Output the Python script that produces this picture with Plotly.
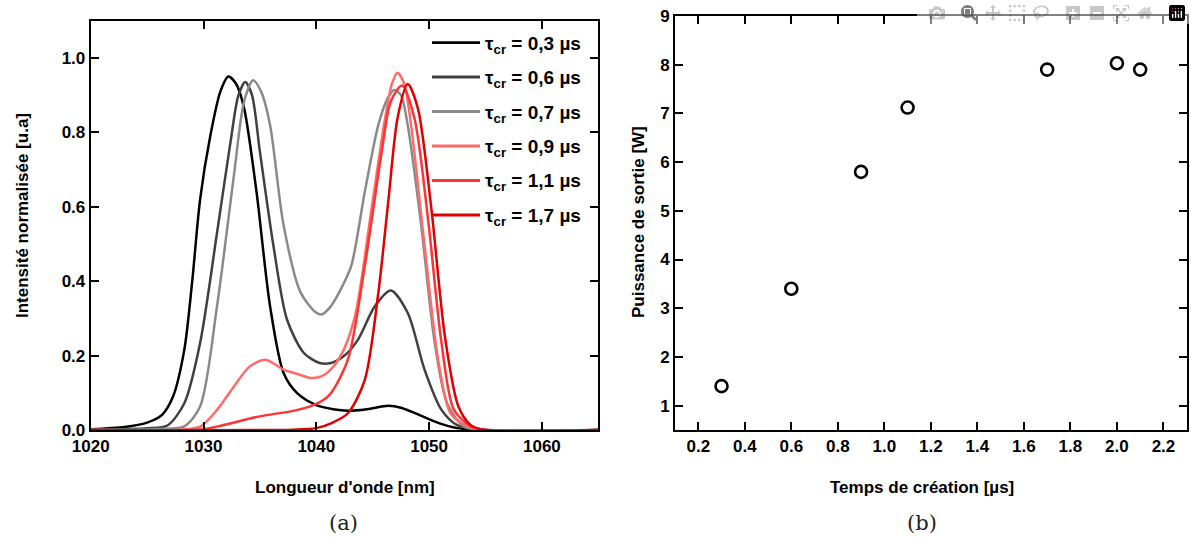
import plotly.graph_objects as go

W, H = 1191, 539

# ---------------- data: panel (a) spectra ----------------
labels_a = ["0,3", "0,6", "0,7", "0,9", "1,1", "1,7"]
colors_a = ["#000000", "#404040", "#8a8a8a", "#ff6b6b", "#ff3333", "#e00000"]

wl_03 = [1020, 1023, 1025, 1026.3, 1027.3, 1028.3, 1029.0, 1029.7, 1030.6, 1031.5, 1032.2, 1032.9,
         1033.6, 1034.7, 1035.9, 1037.1, 1038.3, 1040.0, 1041.5, 1042.8, 1044.5, 1046.4, 1047.5,
         1048.7, 1050.8, 1052.5, 1055, 1065]
int_03 = [0.002, 0.008, 0.02, 0.04, 0.09, 0.216, 0.40, 0.62, 0.79, 0.91, 0.95, 0.93,
          0.865, 0.64, 0.333, 0.153, 0.099, 0.067, 0.056, 0.052, 0.056, 0.065, 0.06,
          0.046, 0.019, 0.005, 0, 0]

wl_06 = [1020, 1025, 1026.8, 1028.3, 1029.7, 1031.2, 1032.4, 1033.1, 1033.7, 1034.3, 1035.0, 1036.2,
         1037.4, 1038.9, 1040.3, 1041.3, 1042.5, 1043.7, 1045.2, 1046.6, 1048.1, 1049.6, 1051.1,
         1052.5, 1055, 1065]
int_06 = [0.001, 0.005, 0.012, 0.072, 0.234, 0.53, 0.775, 0.90, 0.935, 0.90, 0.748, 0.495,
          0.297, 0.207, 0.18, 0.18, 0.20, 0.243, 0.333, 0.375, 0.315, 0.162, 0.054,
          0.013, 0, 0]

wl_07 = [1020, 1026, 1028.3, 1029.7, 1031.2, 1032.7, 1033.6, 1034.4, 1035.1, 1035.9, 1037.1, 1038.6,
         1040.0, 1040.5, 1041.3, 1042.2, 1043.1, 1044.3, 1045.5, 1046.3, 1046.9, 1047.5, 1048.1,
         1049.3, 1050.5, 1051.6, 1053.1, 1055, 1065]
int_07 = [0.001, 0.003, 0.01, 0.063, 0.333, 0.685, 0.883, 0.94, 0.91, 0.82, 0.55, 0.37,
          0.315, 0.311, 0.333, 0.38, 0.441, 0.64, 0.82, 0.89, 0.914, 0.90, 0.82,
          0.55, 0.234, 0.072, 0.009, 0, 0]

wl_09 = [1020, 1028, 1029.7, 1031.2, 1032.7, 1034.1, 1035.5, 1037.1, 1038.4, 1039.5, 1040.5, 1041.5,
         1042.5, 1043.5, 1044.9, 1046.1, 1046.7, 1047.2, 1047.8, 1048.4, 1049.6, 1050.8, 1051.9,
         1053.4, 1055, 1065]
int_09 = [0, 0.001, 0.009, 0.054, 0.117, 0.171, 0.189, 0.162, 0.15, 0.14, 0.145, 0.17,
          0.22, 0.315, 0.595, 0.838, 0.93, 0.96, 0.93, 0.82, 0.495, 0.189, 0.045,
          0.01, 0, 0]

wl_11 = [1020, 1030, 1031.2, 1032.7, 1034.1, 1035.6, 1037.7, 1039.4, 1040.6, 1041.3, 1042.8, 1044.3,
         1045.8, 1046.6, 1047.6, 1048.7, 1049.9, 1051.1, 1052.2, 1053.7, 1055, 1065]
int_11 = [0, 0.002, 0.009, 0.02, 0.031, 0.04, 0.05, 0.063, 0.08, 0.099, 0.189, 0.441,
          0.748, 0.883, 0.926, 0.838, 0.568, 0.234, 0.054, 0.01, 0, 0]

wl_17 = [1020, 1038, 1040, 1041.3, 1042.8, 1044.3, 1045.5, 1046.4, 1047.2, 1048.1, 1049.0, 1050.2,
         1051.4, 1052.6, 1053.7, 1055, 1065]
int_17 = [0, 0.001, 0.005, 0.018, 0.045, 0.135, 0.369, 0.62, 0.838, 0.93, 0.865, 0.595,
          0.252, 0.063, 0.013, 0, 0]

wl_series = [wl_03, wl_06, wl_07, wl_09, wl_11, wl_17]
int_series = [int_03, int_06, int_07, int_09, int_11, int_17]

# ---------------- data: panel (b) output power ----------------
t_creation = [0.3, 0.6, 0.9, 1.1, 1.7, 2.0, 2.1]
power_out = [1.4, 3.4, 5.8, 7.12, 7.9, 8.03, 7.9]

# ---------------- figure ----------------
FONT = "Liberation Sans, Arial, sans-serif"
fig = go.Figure()

for wl, it, col in zip(wl_series, int_series, colors_a):
    fig.add_trace(go.Scatter(x=wl, y=it, mode="lines", xaxis="x", yaxis="y",
                             line=dict(color=col, width=2.5, shape="spline", smoothing=0.8),
                             showlegend=False, hoverinfo="skip"))

fig.add_trace(go.Scatter(x=t_creation, y=power_out, mode="markers", xaxis="x2", yaxis="y2",
                         marker=dict(symbol="circle-open", size=12, color="black",
                                     line=dict(width=2.6, color="black")),
                         showlegend=False))

def px(x):
    return x / W

def py(y):
    return 1 - y / H

tickfont = dict(family=FONT, size=17, color="black", weight="bold")

def axis(**kw):
    d = dict(showline=True, linecolor="#000000", linewidth=2, mirror="ticks",
             ticks="inside", ticklen=8, tickwidth=2, tickcolor="#000000",
             showgrid=False, zeroline=False, tickfont=tickfont, automargin=False)
    d.update(kw)
    return d

fig.update_layout(
    template="none",
    width=W, height=H,
    margin=dict(l=0, r=0, t=0, b=0, pad=0),
    paper_bgcolor="white", plot_bgcolor="white",
    xaxis=axis(domain=[px(90.7), px(598.3)], anchor="y", range=[1020, 1065],
               tick0=1020, dtick=10),
    yaxis=axis(domain=[py(430), py(20.7)], anchor="x", range=[0, 1.1],
               tick0=0, dtick=0.2, tickformat=".1f"),
    xaxis2=axis(domain=[px(675), px(1186.7)], anchor="y2", range=[0.1, 2.3],
                tick0=0.2, dtick=0.2, tickformat=".1f"),
    yaxis2=axis(domain=[py(430), py(16)], anchor="x2", range=[0.5, 9],
                tick0=1, dtick=1),
)

title_font = dict(family=FONT, size=17, color="black", weight="bold")
serif = dict(family="DejaVu Serif, Liberation Serif, serif", size=21, color="#222")
ann = [
    dict(text="Longueur d'onde [nm]", x=px(345), y=py(487), font=title_font),
    dict(text="Temps de création [µs]", x=px(922), y=py(487), font=title_font),
    dict(text="Intensité normalisée [u.a]", x=px(22), y=py(216), font=title_font, textangle=-90),
    dict(text="Puissance de sortie [W]", x=px(638), y=py(222), font=title_font, textangle=-90),
    dict(text="(a)", x=px(343), y=py(523), font=serif),
    dict(text="(b)", x=px(922), y=py(523), font=serif),
]
for a in ann:
    a.update(xref="paper", yref="paper", showarrow=False, xanchor="center", yanchor="middle")
    fig.add_annotation(**a)

# manual legend for panel (a)
leg_y = [42.7, 77, 111.5, 146, 180.5, 215]
for lab, col, yy in zip(labels_a, colors_a, leg_y):
    fig.add_shape(type="line", xref="paper", yref="paper",
                  x0=px(432), x1=px(480), y0=py(yy), y1=py(yy),
                  line=dict(color=col, width=2.8))
    fig.add_annotation(text="τ<sub>cr</sub> = " + lab + " µs", xref="paper", yref="paper",
                       x=px(483), y=py(yy + 2), xanchor="left", yanchor="middle", showarrow=False,
                       font=dict(family=FONT, size=19, color="black", weight="bold"))

fig.write_html("out.html", post_script="document.body.style.margin='0px';")
